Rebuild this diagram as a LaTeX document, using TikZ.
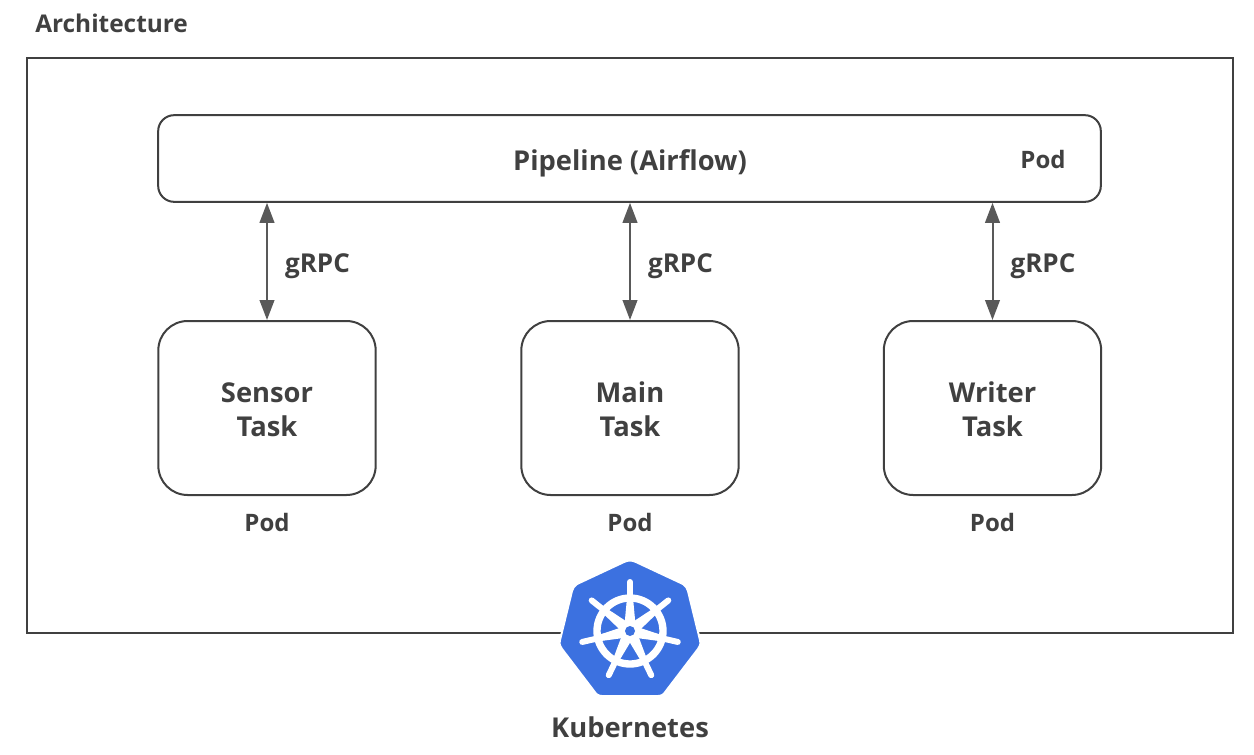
\documentclass[tikz,border=0pt]{standalone}
\usepackage{fontspec}
\setmainfont{Open Sans}
\usetikzlibrary{arrows.meta}
\definecolor{inkGray}{HTML}{404040}
\definecolor{arrowGray}{HTML}{595959}
\definecolor{kubeBlue}{HTML}{3C71E0}
\tikzstyle{frameBox}=[draw=inkGray,line width=1.5pt,inner sep=0pt]
\tikzstyle{podBox}=[frameBox,rounded corners=22pt,minimum width=163pt,minimum height=130.5pt,align=center]
\tikzstyle{pipeBox}=[frameBox,rounded corners=12pt,minimum width=707pt,minimum height=65pt]
\tikzstyle{label}=[text=inkGray,font=\bfseries\fontsize{18}{25.5}\selectfont,align=center]
\tikzstyle{bigLabel}=[label,font=\bfseries\fontsize{20.5}{25.5}\selectfont]
\tikzstyle{grpcLabel}=[label,font=\bfseries\fontsize{19.5}{25.5}\selectfont]
\tikzstyle{grpcLink}=[{Stealth[inset=0pt,length=15pt,width=11pt]}-{Stealth[inset=0pt,length=15pt,width=11pt]},arrowGray,line width=1.5pt]
\tikzstyle{wheelSpoke}=[white,line width=4.5pt,line cap=round]

\begin{document}
\begin{tikzpicture}[x=0.75pt,y=-0.75pt]
	\useasboundingbox (0,0) rectangle (1254,754);

	\node[label,anchor=west,inner sep=0pt,font=\bfseries\fontsize{18.3}{20}\selectfont] (title) at (35, 23) {Architecture};
	\node[frameBox,minimum width=904.5pt,minimum height=431.25pt] (cluster) at (630, 345.5) {};

	\node[pipeBox] (pipeline) at (629.5, 158.5) {};
	\node[bigLabel] (pipelineText) at (630, 163) {Pipeline (Airflow)};
	\node[label] (pipelinePod) at (1043, 159) {Pod};

	\node[podBox] (sensor) at (267, 408) {};
	\node[podBox] (main) at (630, 408) {};
	\node[podBox] (writer) at (992.5, 408) {};

	\node[bigLabel] (sensorText) at (267, 410) {Sensor\\Task};
	\node[bigLabel] (mainText) at (630, 409.5) {Main\\Task};
	\node[bigLabel] (writerText) at (992.5, 409.5) {Writer\\Task};

	\node[label] (sensorPod) at (267, 522) {Pod};
	\node[label] (mainPod) at (630, 522) {Pod};
	\node[label] (writerPod) at (992.5, 522) {Pod};

	\draw[grpcLink] (sensor.north |- pipeline.south) -- (sensor.north) node[pos=0.5,right=9.5pt,yshift=-3.5pt,grpcLabel] {gRPC};
	\draw[grpcLink] (main.north |- pipeline.south) -- (main.north) node[pos=0.5,right=9.5pt,yshift=-3.5pt,grpcLabel] {gRPC};
	\draw[grpcLink] (writer.north |- pipeline.south) -- (writer.north) node[pos=0.5,right=9.5pt,yshift=-3.5pt,grpcLabel] {gRPC};

	% logo
	\fill[kubeBlue,draw=white,line width=1.5pt,line join=round] (624,562) .. controls (628,560) and (632,560) .. (636,562) -- (683,584) .. controls (686,586) and (687,588) .. (688,591) -- (700,640) .. controls (701,644) and (700,647) .. (698,649) -- (666,691) .. controls (664,694) and (662,696) .. (658,696) -- (602,696) .. controls (598,696) and (596,694) .. (594,691) -- (562,649) .. controls (560,647) and (559,644) .. (560,640) -- (572,591) .. controls (573,588) and (574,586) .. (577,584) -- cycle;
	\draw[white,line width=5.5pt] (630, 631) circle (33);
	\foreach \a in {90, 141.4, 192.9, 244.3, 295.7, 347.1, 38.6} {
		\draw[wheelSpoke] (630, 631) -- +({49*cos(\a)},{-49*sin(\a)});
		\fill[white] (630, 631) -- +({10*cos(\a+32)},{-10*sin(\a+32)}) -- +({34*cos(\a+5)},{-34*sin(\a+5)}) -- +({34*cos(\a-5)},{-34*sin(\a-5)}) -- +({10*cos(\a-32)},{-10*sin(\a-32)}) -- cycle;
	}
	\fill[white] (630, 631) circle (11);
	\fill[kubeBlue] (630, 631) circle (5);

	\node[bigLabel] (kubernetes) at (630, 727) {Kubernetes};
\end{tikzpicture}
\end{document}
